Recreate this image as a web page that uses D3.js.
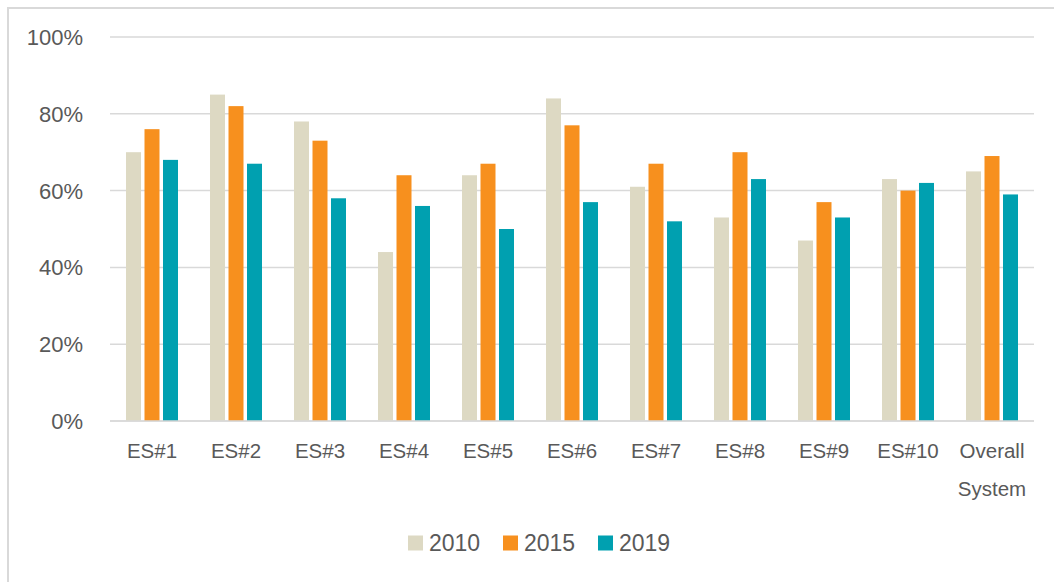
<!DOCTYPE html>
<html><head><meta charset="utf-8">
<script src="https://cdn.jsdelivr.net/npm/d3@7"></script>
<style>body{margin:0;background:#fff}svg{display:block}text{font-family:"Liberation Sans",Arial,sans-serif;fill:#595959}</style>
</head><body>
<script>
const categories = [["ES#1"],["ES#2"],["ES#3"],["ES#4"],["ES#5"],["ES#6"],["ES#7"],["ES#8"],["ES#9"],["ES#10"],["Overall","System"]];
const seriesNames = ["2010","2015","2019"];
const values2010 = [70,85,78,44,64,84,61,53,47,63,65];
const values2015 = [76,82,73,64,67,77,67,70,57,60,69];
const values2019 = [68,67,58,56,50,57,52,63,53,62,59];
const yTicks = [0,20,40,60,80,100];
const colors = ["#DDD9C3","#F7901E","#00A0B0"];

const W=1054,H=582;
const svg=d3.select("body").append("svg").attr("width",W).attr("height",H);
svg.append("path").attr("d","M8,582 V8 H1054").attr("fill","none").attr("stroke","#d9d9d9").attr("stroke-width",2);

const x0=d3.scaleBand().domain(d3.range(categories.length)).range([110,1034]);
const y=d3.scaleLinear().domain([0,100]).range([421,37]);
const series=[values2010,values2015,values2019];

svg.append("g").selectAll("line").data(yTicks).join("line")
 .attr("x1",110).attr("x2",1034).attr("y1",d=>y(d)).attr("y2",d=>y(d))
 .attr("stroke","#d9d9d9").attr("stroke-width",1.5);

svg.append("g").selectAll("text").data(yTicks).join("text")
 .attr("x",83).attr("y",d=>y(d)).attr("dy","0.36em").attr("text-anchor","end")
 .attr("font-size",22).text(d=>d+"%");

const barW=15, step=18.5;
const x1=d3.scalePoint().domain(d3.range(3)).range([0,step*2]);
const groupOff=(x0.bandwidth()-(step*2+barW))/2;

series.forEach((vals,si)=>{
  svg.append("g").selectAll("rect").data(vals).join("rect")
   .attr("x",(d,i)=>x0(i)+groupOff+x1(si))
   .attr("y",d=>y(d)).attr("width",barW).attr("height",d=>y(0)-y(d))
   .attr("fill",colors[si]);
});

svg.append("line").attr("x1",110).attr("x2",1034).attr("y1",y(0)).attr("y2",y(0)).attr("stroke","#d9d9d9").attr("stroke-width",1.5);

const cg=svg.append("g").selectAll("text").data(categories).join("text")
 .attr("text-anchor","middle").attr("font-size",20.5);
cg.each(function(lines,i){
  const t=d3.select(this);
  lines.forEach((l,j)=>t.append("tspan").attr("x",x0(i)+x0.bandwidth()/2).attr("y",451+j*38).attr("dy","0.36em").text(l));
});

const legX=[408,503,598];
const lg=svg.append("g").selectAll("g").data(seriesNames).join("g")
 .attr("transform",(d,i)=>`translate(${legX[i]},543)`);
lg.append("rect").attr("x",0).attr("y",-7.5).attr("width",15).attr("height",15).attr("fill",(d,i)=>colors[i]);
lg.append("text").attr("x",21).attr("dy","0.36em").attr("font-size",23).text(d=>d);
</script>
</body></html>
